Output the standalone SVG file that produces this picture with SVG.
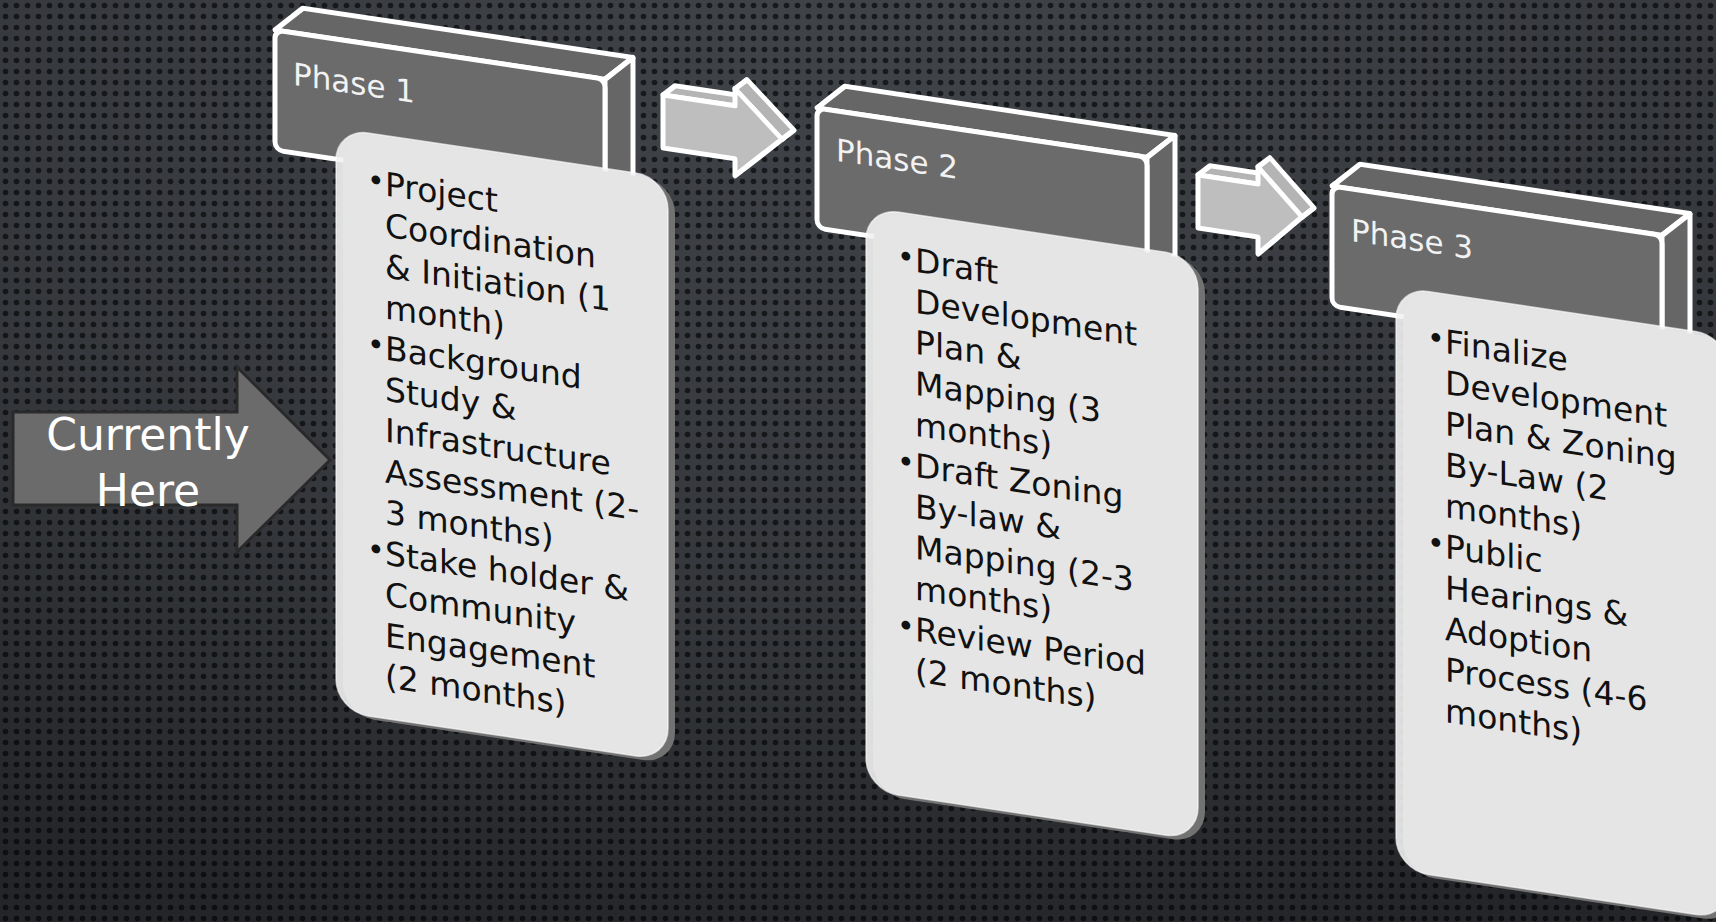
<svg xmlns="http://www.w3.org/2000/svg" width="1716" height="922" viewBox="0 0 1716 922">
<defs>
  <pattern id="dots" patternUnits="userSpaceOnUse" width="11" height="11">
    <rect width="11" height="11" fill="#404348"/>
    <circle cx="5.5" cy="5.5" r="2.8" fill="#181a1d"/>
  </pattern>
  <radialGradient id="vig" cx="0.5" cy="0.05" r="1">
    <stop offset="0" stop-color="#000" stop-opacity="0"/>
    <stop offset="0.6" stop-color="#000" stop-opacity="0.18"/>
    <stop offset="1" stop-color="#000" stop-opacity="0.45"/>
  </radialGradient>
  <style>
    .hdr { fill: #6b6b6b; stroke: #ffffff; stroke-width: 5; stroke-linejoin: round; }
    .hdrtop { fill: #666666; stroke: #ffffff; stroke-width: 5; stroke-linejoin: round; }
    .body { fill: #f2f2f2; fill-opacity: 0.9; stroke: #ffffff; stroke-opacity: 0.6; stroke-width: 1.5; }
    .shadow { fill: #727272; }
    .htxt { font-family: "DejaVu Sans", sans-serif; font-size: 31px; fill: #f2f2f2; }
    .btxt { font-family: "DejaVu Sans", sans-serif; font-size: 33px; fill: #111111; }
    .bul { font-size: 30px; }
    .arr { fill: #bebebe; stroke: #ffffff; stroke-width: 5; stroke-linejoin: round; }
    .arrs { fill: #b4b4b4; stroke: #ffffff; stroke-width: 5; stroke-linejoin: round; }
    .cur { fill: #6b6b6b; stroke: #2a2a2a; stroke-width: 3; }
    .ctxt { font-family: "DejaVu Sans", sans-serif; font-size: 44px; fill: #ffffff; text-anchor: middle; }
  </style>
</defs>

<rect width="1716" height="922" fill="url(#dots)"/>
<rect width="1716" height="922" fill="url(#vig)"/>

<g id="current">
  <polygon class="cur" points="13,412 237,412 237,367 330,460 237,552 237,505 13,505"/>
  <text class="ctxt" x="148" y="450">Currently</text>
  <text class="ctxt" x="148" y="506">Here</text>
</g>

<g id="connectors">
  <g id="arrow1" transform="translate(663,95) skewY(8.5)">
    <polygon class="arrs" points="0,0 12,-11 84,-11 72,0"/>
    <polygon class="arrs" points="72,-17 84,-28 131,15.5 119,26.5"/>
    <polygon class="arr" points="0,0 72,0 72,-17 119,26.5 72,70 72,53 0,53"/>
  </g>
  <g id="arrow2" transform="translate(1198,175) skewY(8.5)">
    <polygon class="arrs" points="0,0 12,-11 72,-11 60,0"/>
    <polygon class="arrs" points="60,-17 72,-28 116,15.5 104,26.5"/>
    <polygon class="arr" points="0,0 60,0 60,-17 104,26.5 60,70 60,53 0,53"/>
  </g>
</g>

<g id="phase1" transform="translate(275,30) skewY(8.5)">
  <g class="header">
    <polygon class="hdrtop" points="0,0 28,-26 358,-26 330,0"/>
    <polygon class="hdrtop" points="330,0 358,-26 358,94 330,120"/>
    <rect class="hdr" x="0" y="0" width="330" height="120" rx="8"/>
    <text class="htxt" x="18" y="52">Phase 1</text>
  </g>
  <rect class="shadow" x="68" y="92" width="332" height="583" rx="32"/>
  <rect class="body" x="61" y="89" width="332" height="583" rx="32"/>
  <text class="btxt">
    <tspan class="bul" x="92" y="146">•</tspan>
    <tspan x="110" y="149">Project</tspan>
    <tspan x="110" y="190">Coordination</tspan>
    <tspan x="110" y="231">&amp; Initiation (1</tspan>
    <tspan x="110" y="272">month)</tspan>
    <tspan class="bul" x="92" y="310">•</tspan>
    <tspan x="110" y="313">Background</tspan>
    <tspan x="110" y="354">Study &amp;</tspan>
    <tspan x="110" y="395">Infrastructure</tspan>
    <tspan x="110" y="436">Assessment (2-</tspan>
    <tspan x="110" y="477">3 months)</tspan>
    <tspan class="bul" x="92" y="515">•</tspan>
    <tspan x="110" y="518">Stake holder &amp;</tspan>
    <tspan x="110" y="559">Community</tspan>
    <tspan x="110" y="600">Engagement</tspan>
    <tspan x="110" y="641">(2 months)</tspan>
  </text>
</g>

<g id="phase2" transform="translate(805,109.2) skewY(8.5)">
  <g class="header" transform="translate(12,-3)">
    <polygon class="hdrtop" points="0,0 28,-26 358,-26 330,0"/>
    <polygon class="hdrtop" points="330,0 358,-26 358,94 330,120"/>
    <rect class="hdr" x="0" y="0" width="330" height="120" rx="8"/>
    <text class="htxt" x="19" y="50">Phase 2</text>
  </g>
  <rect class="shadow" x="68" y="92" width="332" height="583" rx="32"/>
  <rect class="body" x="61" y="89" width="332" height="583" rx="32"/>
  <text class="btxt">
    <tspan class="bul" x="92" y="143">•</tspan>
    <tspan x="110" y="146">Draft</tspan>
    <tspan x="110" y="187">Development</tspan>
    <tspan x="110" y="228">Plan &amp;</tspan>
    <tspan x="110" y="269">Mapping (3</tspan>
    <tspan x="110" y="310">months)</tspan>
    <tspan class="bul" x="92" y="348">•</tspan>
    <tspan x="110" y="351">Draft Zoning</tspan>
    <tspan x="110" y="392">By-law &amp;</tspan>
    <tspan x="110" y="433">Mapping (2-3</tspan>
    <tspan x="110" y="474">months)</tspan>
    <tspan class="bul" x="92" y="512">•</tspan>
    <tspan x="110" y="515">Review Period</tspan>
    <tspan x="110" y="556">(2 months)</tspan>
  </text>
</g>

<g id="phase3" transform="translate(1335,188.5) skewY(8.5)">
  <g class="header" transform="translate(-3,-2)">
    <polygon class="hdrtop" points="0,0 28,-26 358,-26 330,0"/>
    <polygon class="hdrtop" points="330,0 358,-26 358,94 330,120"/>
    <rect class="hdr" x="0" y="0" width="330" height="120" rx="8"/>
    <text class="htxt" x="19" y="52">Phase 3</text>
  </g>
  <rect class="shadow" x="68" y="92" width="332" height="583" rx="32"/>
  <rect class="body" x="61" y="89" width="332" height="583" rx="32"/>
  <text class="btxt">
    <tspan class="bul" x="92" y="145">•</tspan>
    <tspan x="110" y="148">Finalize</tspan>
    <tspan x="110" y="189">Development</tspan>
    <tspan x="110" y="230">Plan &amp; Zoning</tspan>
    <tspan x="110" y="271">By-Law (2</tspan>
    <tspan x="110" y="312">months)</tspan>
    <tspan class="bul" x="92" y="350">•</tspan>
    <tspan x="110" y="353">Public</tspan>
    <tspan x="110" y="394">Hearings &amp;</tspan>
    <tspan x="110" y="435">Adoption</tspan>
    <tspan x="110" y="476">Process (4-6</tspan>
    <tspan x="110" y="517">months)</tspan>
  </text>
</g>
</svg>
